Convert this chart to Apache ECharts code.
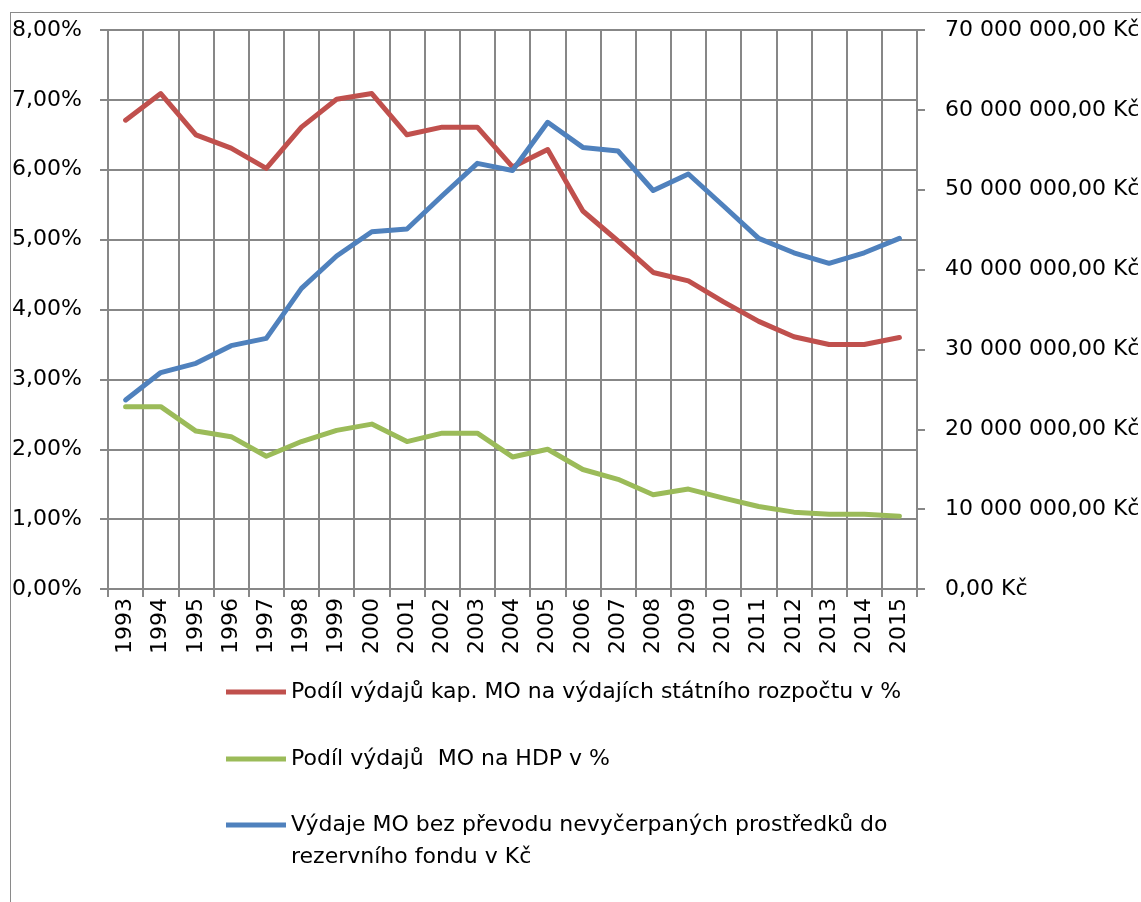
<!DOCTYPE html>
<html>
<head>
<meta charset="utf-8">
<script src="https://cdn.jsdelivr.net/npm/echarts@6/dist/echarts.min.js"></script>
<style>
  html, body { margin: 0; padding: 0; background: #fff; overflow: hidden; }
  #main { position: absolute; left: 0; top: 0; width: 1141px; height: 902px; }
  #frame { position: absolute; left: 10px; top: 12px; width: 1200px; height: 1000px;
           border: 1px solid #8a8a8a; pointer-events: none; }
</style>
</head>
<body>
<div id="main"></div>
<div id="frame"></div>
<script>
// roky
var years = ['1993', '1994', '1995', '1996', '1997', '1998', '1999', '2000', '2001', '2002', '2003', '2004',
  '2005', '2006', '2007', '2008', '2009', '2010', '2011', '2012', '2013', '2014', '2015'];

// podil na vydajich statniho rozpoctu (%)
var shareBudget = [6.71, 7.09, 6.50, 6.31, 6.02, 6.61, 7.01, 7.09, 6.50, 6.61, 6.61, 6.04,
  6.29, 5.41, 4.98, 4.53, 4.41, 4.11, 3.83, 3.61, 3.50, 3.50, 3.60];

// podil na HDP (%)
var shareGdp = [2.61, 2.61, 2.26, 2.18, 1.90, 2.11, 2.27, 2.36, 2.11, 2.23, 2.23, 1.89,
  2.00, 1.71, 1.57, 1.35, 1.43, 1.30, 1.18, 1.10, 1.07, 1.07, 1.04];

// vydaje MO v Kc
var spending = [23670000, 27100000, 28260000, 30470000, 31390000, 37650000, 41700000, 44740000,
  45080000, 49250000, 53300000, 52400000, 58440000, 55300000, 54850000, 49900000, 51970000,
  47960000, 43900000, 42100000, 40780000, 42100000, 43900000];

var names = [
  'Podíl výdajů kap. MO na výdajích státního rozpočtu v %',
  'Podíl výdajů  MO na HDP v %',
  'Výdaje MO bez převodu nevyčerpaných prostředků do\nrezervního fondu v Kč'
];

var gridGray = '#878787';
var font = 'DejaVu Sans';
var fs = 22;

function pct(v) {
  return v.toFixed(2).replace('.', ',') + '%';
}
function kc(v) {
  var s = Math.round(v).toString().replace(/\B(?=(\d{3})+(?!\d))/g, ' ');
  return s + ',00 Kč';
}

var chart = echarts.init(document.getElementById('main'));

function legendFor(name, top, fmt) {
  var l = {
    data: [name],
    left: 221,
    top: top,
    orient: 'vertical',
    icon: 'rect',
    itemWidth: 60,
    itemHeight: 5,
    selectedMode: false,
    textStyle: {
      fontFamily: font,
      fontSize: fs,
      color: '#000',
      lineHeight: 32
    }
  };
  if (fmt) l.formatter = fmt;
  return l;
}

chart.setOption({
  animation: false,
  textStyle: { fontFamily: font },
  grid: {
    left: 108,
    right: 224,
    top: 30,
    bottom: 313,
    containLabel: false,
    outerBoundsMode: 'none'
  },
  legend: [
    legendFor(names[0], 671),
    legendFor(names[1], 738),
    // prazdny prvni radek, aby ikona sedela u prvniho radku textu
    legendFor(names[2], 772, function (n) { return '\n' + n; })
  ],
  xAxis: {
    type: 'category',
    data: years,
    boundaryGap: true,
    axisLine: { lineStyle: { color: gridGray, width: 2 } },
    axisTick: { show: true, interval: 0, length: 8, lineStyle: { color: gridGray, width: 2 } },
    splitLine: { show: true, interval: 0, lineStyle: { color: gridGray, width: 2 } },
    axisLabel: {
      interval: 0,
      rotate: 90,
      margin: 9,
      fontSize: fs,
      color: '#000',
      fontFamily: font
    }
  },
  yAxis: [
    {
      type: 'value',
      min: 0,
      max: 8,
      interval: 1,
      position: 'left',
      axisLine: { show: true, lineStyle: { color: gridGray, width: 2 } },
      axisTick: { show: true, length: 8, lineStyle: { color: gridGray, width: 2 } },
      splitLine: { show: true, lineStyle: { color: gridGray, width: 2 } },
      axisLabel: {
        margin: 26,
        fontSize: fs,
        color: '#000',
        fontFamily: font,
        formatter: pct
      }
    },
    {
      type: 'value',
      min: 0,
      max: 70000000,
      interval: 10000000,
      position: 'right',
      axisLine: { show: true, lineStyle: { color: gridGray, width: 2 } },
      axisTick: { show: true, length: 8, lineStyle: { color: gridGray, width: 2 } },
      splitLine: { show: false },
      axisLabel: {
        margin: 28,
        fontSize: fs,
        color: '#000',
        fontFamily: font,
        formatter: kc
      }
    }
  ],
  series: [
    {
      name: names[0],
      type: 'line',
      yAxisIndex: 0,
      data: shareBudget,
      symbol: 'none',
      color: '#C0504D',
      lineStyle: { width: 5, cap: 'round', join: 'round' }
    },
    {
      name: names[1],
      type: 'line',
      yAxisIndex: 0,
      data: shareGdp,
      symbol: 'none',
      color: '#9BBB59',
      lineStyle: { width: 5, cap: 'round', join: 'round' }
    },
    {
      name: names[2],
      type: 'line',
      yAxisIndex: 1,
      data: spending,
      symbol: 'none',
      color: '#4F81BD',
      lineStyle: { width: 5, cap: 'round', join: 'round' }
    }
  ]
});
</script>
</body>
</html>
